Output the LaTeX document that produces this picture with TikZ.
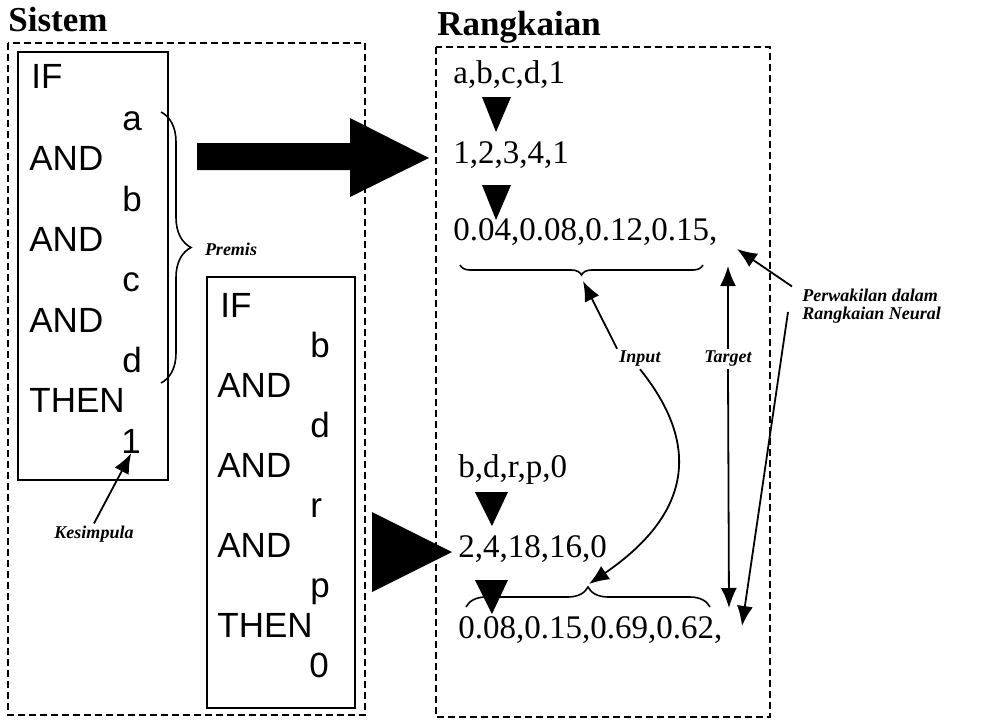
\documentclass[tikz,border=0pt]{standalone}
\usepackage{fontspec}
\setmainfont{Liberation Serif}
\setsansfont{Liberation Sans}
\usetikzlibrary{arrows.meta, decorations.pathreplacing}

\tikzset{
  frame/.style={draw, dashed, dash pattern=on 3.5pt off 2pt, line width=1pt},
  rulebox/.style={draw, line width=0.8pt},
  title/.style={font=\bfseries\fontsize{17.5}{19}\selectfont, inner sep=0pt, anchor=base west},
  word/.style={font=\sffamily\fontsize{17.5}{19}\selectfont, inner sep=0pt, anchor=base west},
  code/.style={font=\fontsize{16.5}{18}\selectfont, inner sep=0pt, anchor=base west},
  note/.style={font=\bfseries\itshape\fontsize{9}{10}\selectfont, inner sep=1pt},
  pointer/.style={-{Latex[length=10pt,width=8pt]}, line width=0.9pt},
  brace/.style={decorate, decoration={brace, amplitude=#1}, line width=0.8pt},
}

\begin{document}
\begin{tikzpicture}[x=0.5pt, y=-0.5pt]
        \useasboundingbox (0,0) rectangle (982,723);

        % Titles and frames
        \node[title] (sistem) at (8,31) {Sistem};
        \node[title] (rangkaian) at (437,35) {Rangkaian};
        \draw[frame] (8,43) rectangle (365,715);
        \draw[frame] (436,47) rectangle (770,717);

        % First rule
        \draw[rulebox] (18,52) rectangle (168,480);
        \node[word] (if1)   at (31,88)  {IF};
        \node[word] (and1a) at (29,170) {AND};
        \node[word] (and1b) at (29,251) {AND};
        \node[word] (and1c) at (29,332) {AND};
        \node[word] (then1) at (29,412) {THEN};
        \node[word] (va) at (122,130) {a};
        \node[word] (vb) at (122,211) {b};
        \node[word] (vc) at (122,291) {c};
        \node[word] (vd) at (122,372) {d};
        \node[word] (v1) at (121,453) {1};

        % Second rule
        \draw[rulebox] (207,277) rectangle (355,708);
        \node[word] (if2)   at (220,317) {IF};
        \node[word] (and2a) at (217,397) {AND};
        \node[word] (and2b) at (217,477) {AND};
        \node[word] (and2c) at (217,557) {AND};
        \node[word] (then2) at (217,637) {THEN};
        \node[word] (wb) at (310,357) {b};
        \node[word] (wd) at (310,437) {d};
        \node[word] (wr) at (310,517) {r};
        \node[word] (wp) at (310,597) {p};
        \node[word] (w0) at (309,677) {0};

        % Premis and Kesimpula
        \coordinate (pa) at (161,112);
        \coordinate (pd) at (161,383);
        \draw[brace=15pt] (pa) -- (pd);
        \node[note] (premis) at (231,249) {Premis};
        \node[note] (kesimpula) at (94,534) {Kesimpula};
        \draw[pointer] (kesimpula.north) -- (v1.south);

        % Big arrows
        \fill (197,143) -- (350,143) -- (350,118) -- (429,158) -- (350,197)
              -- (350,170) -- (197,170) -- cycle;
        \fill (372,512) -- (452,552) -- (372,592) -- cycle;

        % Upper encoding
        \node[code] (s1a) at (453,83)  {a,b,c,d,1};
        \node[code] (s1b) at (453,163) {1,2,3,4,1};
        \node[code] (s1c) at (453,240) {0.04,0.08,0.12,0.15,};
        \fill (482,97) -- (511,97) -- (496,132) -- cycle;
        \fill (482,185) -- (511,185) -- (496,220) -- cycle;
        \coordinate (ia) at (703,265);
        \coordinate (ib) at (460,265);
        \draw[brace=5pt] (ia) -- (ib);
        \coordinate (in1) at (583,281);

        % Lower encoding
        \node[code] (s2a) at (458,477) {b,d,r,p,0};
        \node[code] (s2b) at (458,557) {2,4,18,16,0};
        \node[code] (s2c) at (458,638) {0.08,0.15,0.69,0.62,};
        \fill (475,492) -- (508,492) -- (492,526) -- cycle;
        \fill (475,580) -- (508,580) -- (492,614) -- cycle;
        \coordinate (ja) at (466,607);
        \coordinate (jb) at (710,607);
        \draw[brace=10pt] (ja) -- (jb);
        \coordinate (in2) at (589,584);

        % Labels on the right
        \node[note] (input)  at (640,359) {Input};
        \node[note] (target) at (728,359) {Target};
        \node[note, align=left, anchor=west] (perw) at (800,306)
            {Perwakilan dalam\\[-1pt]Rangkaian Neural};
        \coordinate (t1) at (728,266);
        \coordinate (t2) at (729,608);
        \coordinate (r1) at (737,249);
        \coordinate (r2) at (742,626);

        \draw[pointer] (input.north west) -- (in1);
        \draw[pointer] (input.south) .. controls (697,440) and (697,510) .. (in2);
        \draw[pointer] (target.north) -- (t1);
        \draw[pointer] (target.south) -- (t2);
        \draw[pointer] (perw.north west) ++(-8,0) -- (r1);
        \draw[pointer] ([xshift=-6pt]perw.west) ++(0,6) -- (r2);
\end{tikzpicture}
\end{document}
